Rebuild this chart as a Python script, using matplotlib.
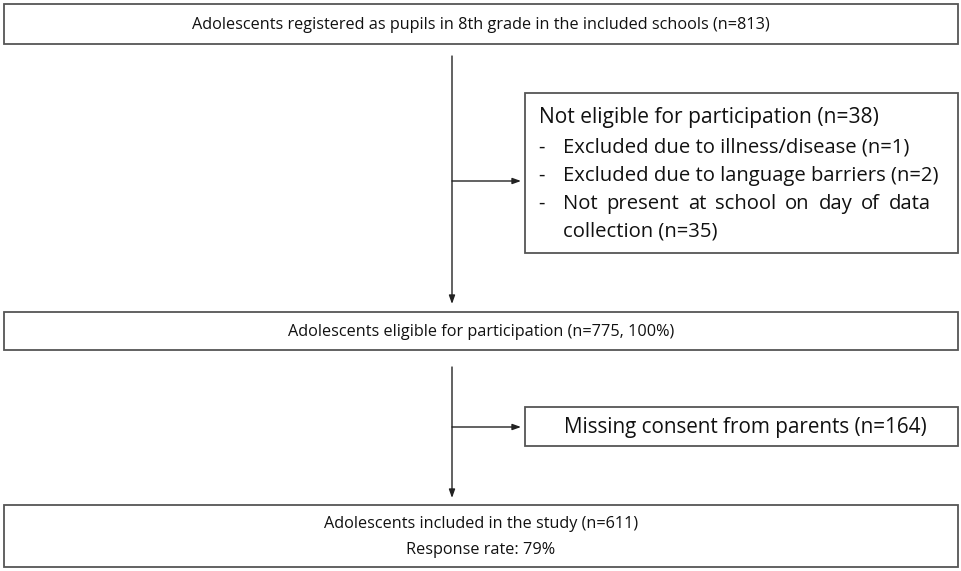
import matplotlib
matplotlib.use("Agg")
import matplotlib.pyplot as plt
from matplotlib.patches import Rectangle
from matplotlib import font_manager

W, H = 962, 571
main_texts = [
    "Adolescents registered as pupils in 8th grade in the included schools (n=813)",
    "Adolescents eligible for participation (n=775, 100%)",
    "Adolescents included in the study (n=611)\nResponse rate: 79%",
]
side_header = "Not eligible for participation (n=38)"
side_items = [
    "Excluded due to illness/disease (n=1)",
    "Excluded due to language barriers (n=2)",
    "Not present at school on day of data",
]
side_cont = "collection (n=35)"
side2_text = "Missing consent from parents (n=164)"

names = {f.name for f in font_manager.fontManager.ttflist}
NARROW = "Liberation Sans Narrow" if "Liberation Sans Narrow" in names else None

FONT = "Open Sans"
MFS = 11.7
SFS = 14.6
TC = "#111111"
fig = plt.figure(figsize=(W / 100, H / 100), dpi=100)
ax = fig.add_axes([0, 0, 1, 1])
ax.set_xlim(0, W)
ax.set_ylim(H, 0)
ax.axis("off")

ec = "#555555"
def box(x0, y0, x1, y1):
    ax.add_patch(Rectangle((x0, y0), x1 - x0, y1 - y0, fill=False, ec=ec, lw=1.3))

# main boxes
mains = [(4, 4, 958, 44), (4, 312, 958, 350), (4, 505, 958, 567)]
for (x0, y0, x1, y1), t in zip(mains, main_texts):
    box(x0, y0, x1, y1)
    if NARROW:
        ax.text((x0 + x1) / 2, (y0 + y1) / 2 + 1, t, ha="center", va="center",
                fontsize=13.8, family=NARROW, linespacing=1.55, color=TC)
    else:
        ax.text((x0 + x1) / 2, (y0 + y1) / 2 + 1, t, ha="center", va="center",
                fontsize=MFS, family=FONT, linespacing=1.8, color=TC)

# side box 1
box(525, 93, 958, 253)
ax.text(539, 117, side_header, ha="left", va="center", fontsize=15.1, family=FONT, color=TC)
renderer = fig.canvas.get_renderer()
for i, t in enumerate(side_items):
    y = 148 + i * 27.8
    ax.text(538, y, "-", ha="left", va="center", fontsize=SFS, family=FONT, color=TC)
    if i == len(side_items) - 1:
        # justified line
        words = t.split()
        arts = [ax.text(0, y, w, ha="left", va="center", fontsize=SFS, family=FONT, color=TC) for w in words]
        widths = [a.get_window_extent(renderer).width for a in arts]
        left, right = 563, 931
        gap = (right - left - sum(widths)) / (len(words) - 1)
        x = left
        for a, wd in zip(arts, widths):
            a.set_x(x)
            x += wd + gap
    else:
        ax.text(563, y, t, ha="left", va="center", fontsize=SFS, family=FONT, color=TC)
ax.text(563, 148 + 3 * 27.8, side_cont, ha="left", va="center", fontsize=SFS, family=FONT, color=TC)

# side box 2
box(525, 407, 958, 446)
ax.text(745, 427, side2_text, ha="center", va="center", fontsize=14.9, family=FONT, color=TC)

lc = "#222222"
ap = dict(arrowstyle="-|>,head_length=0.5,head_width=0.18", color=lc, lw=1.0, shrinkA=0, shrinkB=0)
# vertical arrows
ax.annotate("", xy=(452, 304), xytext=(452, 56), arrowprops=ap)
ax.annotate("", xy=(452, 498), xytext=(452, 367), arrowprops=ap)
# horizontal arrows
ax.annotate("", xy=(521, 181), xytext=(452, 181), arrowprops=ap)
ax.annotate("", xy=(521, 427), xytext=(452, 427), arrowprops=ap)

fig.savefig("out.png", dpi=100, facecolor="white")
